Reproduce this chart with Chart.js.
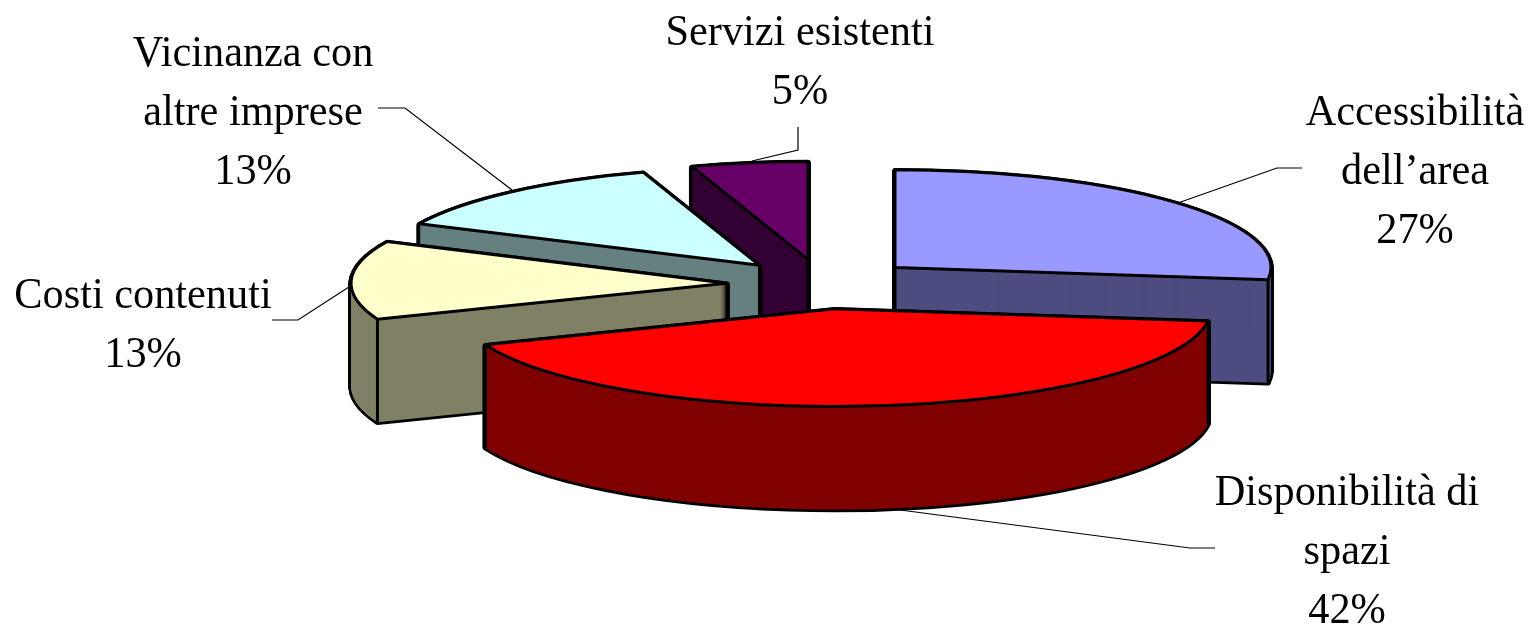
<!DOCTYPE html>
<html>
<head>
<meta charset="utf-8">
<title>Pie</title>
<script src="https://cdn.jsdelivr.net/npm/chart.js@4/dist/chart.umd.min.js"></script>
<style>
  html, body { margin: 0; padding: 0; background: #fff; }
  canvas { display: block; }
</style>
</head>
<body>
<canvas id="pieChart" width="1529" height="625"></canvas>
<script>
const categories = ['Accessibilità dell’area', 'Disponibilità di spazi', 'Costi contenuti', 'Vicinanza con altre imprese', 'Servizi esistenti'];
const shares = [27, 42, 13, 13, 5];
const labelLines = [
  ['Accessibilità', 'dell’area'],
  ['Disponibilità di', 'spazi'],
  ['Costi contenuti'],
  ['Vicinanza con', 'altre imprese'],
  ['Servizi esistenti'],
];
const topColors = ['#9999ff', '#ff0000', '#ffffcc', '#ccffff', '#660066'];
const sideColors = ['#4d4d80', '#800000', '#808066', '#668080', '#330033'];

// layout of the fake 3d view
const squash = 0.26;
const depth = 103;
const explode = 96;
const radius = 376;

// label anchor: centre x, first baseline
const labelPos = [
  [1415, 125],
  [1347, 505],
  [143, 308],
  [253, 66],
  [800, 45],
];
const lineGap = 59;
const textSqueeze = 0.94;
const leaders = [
  [[1175, 204], [1277, 168], [1302, 168]],
  [[885, 508], [1190, 548], [1215, 548]],
  [[352, 285], [298, 320], [272, 320]],
  [[512, 190], [405, 108], [378, 108]],
  [[752, 161], [798, 150], [798, 127]],
];

function apex(el, drop) {
  const mid = (el.startAngle + el.endAngle) / 2;
  return {
    x: el.x + explode * Math.cos(mid),
    y: el.y + drop + explode * Math.sin(mid) * squash,
  };
}

function traceSlice(ctx, el, drop) {
  const c = apex(el, drop);
  ctx.beginPath();
  ctx.moveTo(c.x, c.y);
  ctx.ellipse(c.x, c.y, el.outerRadius, el.outerRadius * squash, 0, el.startAngle, el.endAngle);
  ctx.closePath();
}

// squash the round arc from Chart.js into the tilted plane
function drawArc(ctx, el, color, drop) {
  const c = apex(el, drop);
  const saved = el.options;
  el.options = Object.assign({}, saved, { backgroundColor: color, borderWidth: 0 });
  ctx.save();
  ctx.translate(c.x, c.y);
  ctx.scale(1, squash);
  ctx.translate(-el.x, -el.y);
  el.draw(ctx);
  ctx.restore();
  el.options = saved;
}

function vertical(ctx, x, y) {
  ctx.beginPath();
  ctx.moveTo(x, y);
  ctx.lineTo(x, y + depth);
  ctx.stroke();
}

const pie3d = {
  id: 'pie3d',
  beforeDatasetsDraw(chart) {
    const ctx = chart.ctx;
    const arcs = chart.getDatasetMeta(0).data;

    ctx.save();
    ctx.strokeStyle = '#000';
    ctx.lineWidth = 1.2;
    leaders.forEach((pts) => {
      ctx.beginPath();
      pts.forEach((p, i) => (i ? ctx.lineTo(p[0], p[1]) : ctx.moveTo(p[0], p[1])));
      ctx.stroke();
    });

    // back slices first
    const order = arcs.map((el, i) => i).sort((a, b) => apex(arcs[a], 0).y - apex(arcs[b], 0).y);
    ctx.lineJoin = 'round';
    order.forEach((i) => {
      const el = arcs[i];
      // only the outer half of this stroke survives the fill below
      ctx.lineWidth = 5.5;
      for (let d = depth; d >= 1; d--) {
        traceSlice(ctx, el, d);
        ctx.stroke();
      }
      for (let d = depth; d >= 0; d--) {
        drawArc(ctx, el, sideColors[i], d);
      }
      ctx.lineWidth = 3;
      const c = apex(el, 0);
      const down = Math.PI / 2;
      if (!(el.startAngle < down && el.endAngle > down)) {
        vertical(ctx, c.x, c.y);
      }
      [el.startAngle, el.endAngle].forEach((a) => {
        if (Math.sin(a) > 0) {
          vertical(ctx, c.x + el.outerRadius * Math.cos(a), c.y + el.outerRadius * squash * Math.sin(a));
        }
      });
      drawArc(ctx, el, topColors[i], 0);
      traceSlice(ctx, el, 0);
      ctx.stroke();
    });

    ctx.fillStyle = '#000';
    ctx.font = '45px "Liberation Serif"';
    ctx.textAlign = 'center';
    ctx.textBaseline = 'alphabetic';
    labelLines.forEach((lines, i) => {
      const [x, y] = labelPos[i];
      lines.concat(shares[i] + '%').forEach((line, n) => {
        ctx.fillText(line, x, y + n * lineGap, ctx.measureText(line).width * textSqueeze);
      });
    });
    ctx.restore();
    return false;
  },
};

new Chart(document.getElementById('pieChart').getContext('2d'), {
  type: 'pie',
  data: {
    labels: categories,
    datasets: [
      {
        data: shares,
        backgroundColor: topColors,
        borderWidth: 0,
        radius: radius,
      },
    ],
  },
  options: {
    responsive: false,
    animation: false,
    radius: radius,
    layout: { padding: { left: 117, bottom: 57 } },
    plugins: {
      legend: { display: false },
      tooltip: { enabled: false },
    },
  },
  plugins: [pie3d],
});
</script>
</body>
</html>
